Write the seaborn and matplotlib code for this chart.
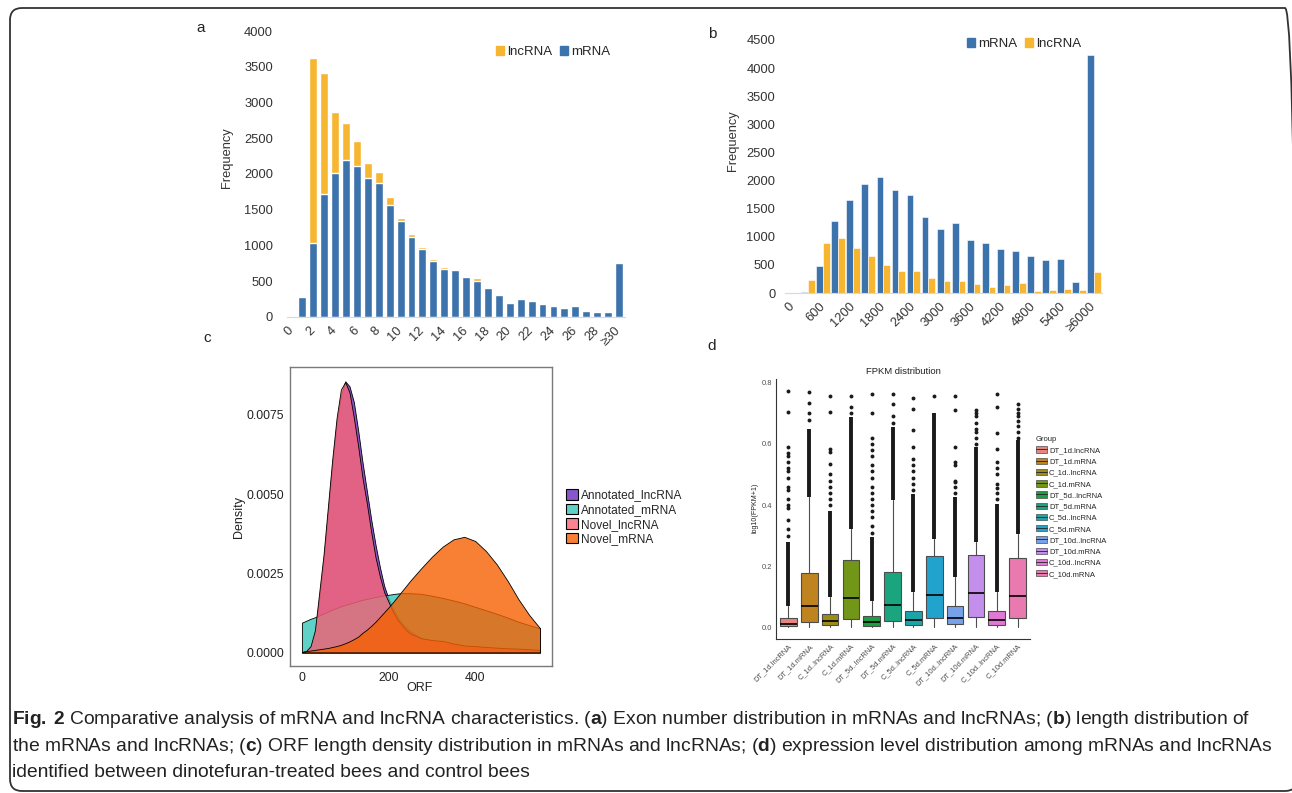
import numpy as np
import pandas as pd
import matplotlib
matplotlib.use("Agg")
import matplotlib.pyplot as plt
import seaborn as sns
from matplotlib.patches import Patch, FancyBboxPatch
from matplotlib.lines import Line2D
from matplotlib.colors import to_rgba
from matplotlib.ticker import FormatStrFormatter

sns.set_style("white")
plt.rcParams["font.family"] = ["Liberation Sans", "DejaVu Sans"]
CAP_FONT = "Liberation Sans"
plt.rcParams["mathtext.fontset"] = "custom"
plt.rcParams["mathtext.rm"] = CAP_FONT
plt.rcParams["mathtext.bf"] = CAP_FONT + ":bold"

# ---------------- data ----------------
# (a) exon number distribution
exon_cats = ["0", "1", "2", "3", "4", "5", "6", "7", "8", "9", "10", "11", "12", "13", "14", "15",
             "16", "17", "18", "19", "20", "21", "22", "23", "24", "25", "26", "27", "28", "29", "≥30"]
exon_mrna = [0, 280, 1031, 1727, 2016, 2189, 2114, 1951, 1871, 1573, 1344, 1125, 947, 784, 667, 663,
             560, 499, 401, 308, 196, 257, 224, 177, 149, 131, 154, 89, 75, 75, 756]
exon_lnc = [0, 0, 2586, 1689, 850, 527, 350, 205, 159, 107, 47, 42, 38, 33, 28, 5,
            14, 42, 19, 9, 0, 9, 9, 0, 0, 0, 14, 0, 9, 0, 0]

# (b) length distribution
len_cats = ["0", "300", "600", "900", "1200", "1500", "1800", "2100", "2400", "2700", "3000",
            "3300", "3600", "3900", "4200", "4500", "4800", "5100", "5400", "5700", "≥6000"]
len_mrna = [0, 12, 480, 1279, 1658, 1930, 2066, 1830, 1747, 1350, 1143,
            1243, 935, 882, 782, 740, 663, 592, 604, 201, 4227]
len_lnc = [0, 237, 888, 977, 800, 657, 497, 391, 391, 272, 207,
           207, 166, 100, 148, 184, 36, 59, 65, 47, 379]

# (c) ORF length density
orf_x = [0, 10, 20, 30, 40, 50, 60, 70, 80, 90, 100, 110, 120, 130, 140, 150, 160, 170, 180, 190,
         200, 210, 220, 230, 240, 250, 275, 300, 325, 350, 375, 400, 425, 450, 475, 500, 525, 550]
dens_ann_lnc = [0, 0.00004, 0.00017, 0.0006, 0.0017, 0.0029, 0.0044, 0.0059, 0.0072, 0.0081,
                0.00856, 0.0084, 0.0079, 0.0070, 0.0060, 0.0051, 0.0042, 0.0034, 0.0027, 0.0021,
                0.0017, 0.0014, 0.00115, 0.00095, 0.0008, 0.00068, 0.00045, 0.00033, 0.00027, 0.00022,
                0.00018, 0.00015, 0.00012, 0.0001, 0.00008, 0.00007, 0.00006, 0.00005]
dens_ann_mrna = [0.00094, 0.001, 0.00106, 0.00111, 0.00117, 0.00123, 0.00129, 0.00135, 0.0014, 0.00146,
                 0.0015, 0.00154, 0.00158, 0.00162, 0.00166, 0.00169, 0.00172, 0.00175, 0.00178, 0.0018,
                 0.00182, 0.00184, 0.00186, 0.00187, 0.00187, 0.00187, 0.00185, 0.00179, 0.00172, 0.00164,
                 0.00155, 0.00144, 0.00133, 0.00122, 0.0011, 0.00097, 0.00086, 0.00076]
dens_nov_lnc = [0, 0.00005, 0.0002, 0.0007, 0.0019, 0.0031, 0.0046, 0.0061, 0.0074, 0.0083,
                0.00854, 0.0082, 0.0074, 0.0065, 0.0055, 0.0047, 0.0038, 0.0030, 0.0024, 0.0019,
                0.0016, 0.0013, 0.00105, 0.00088, 0.00072, 0.0006, 0.00045, 0.00039, 0.00036, 0.00028,
                0.00022, 0.0002, 0.00017, 0.00015, 0.00013, 0.00012, 0.0001, 0.00008]
dens_nov_mrna = [0.00002, 0.00004, 0.00006, 0.00008, 0.0001, 0.00012, 0.00014, 0.00017, 0.0002, 0.00024,
                 0.00029, 0.00035, 0.00042, 0.0005, 0.00062, 0.00072, 0.00084, 0.00097, 0.00112, 0.00127,
                 0.00142, 0.00158, 0.00175, 0.00192, 0.00209, 0.00226, 0.00265, 0.00302, 0.00334, 0.00357,
                 0.00365, 0.00352, 0.0032, 0.00278, 0.00226, 0.00168, 0.00118, 0.00076]
orf_groups = ["Annotated_lncRNA", "Annotated_mRNA", "Novel_lncRNA", "Novel_mRNA"]

# (d) FPKM boxplots
grp_names = ["DT_1d.lncRNA", "DT_1d.mRNA", "C_1d..lncRNA", "C_1d.mRNA", "DT_5d..lncRNA", "DT_5d.mRNA",
             "C_5d..lncRNA", "C_5d.mRNA", "DT_10d..lncRNA", "DT_10d.mRNA", "C_10d..lncRNA", "C_10d.mRNA"]
box_q1 = [0.003, 0.016, 0.008, 0.027, 0.005, 0.020, 0.008, 0.031, 0.011, 0.033, 0.008, 0.031]
box_med = [0.011, 0.068, 0.020, 0.096, 0.016, 0.073, 0.022, 0.107, 0.031, 0.113, 0.022, 0.102]
box_q3 = [0.031, 0.177, 0.044, 0.221, 0.038, 0.180, 0.052, 0.232, 0.068, 0.238, 0.052, 0.227]
whisk_lo = [0, 0, 0, 0, 0, 0, 0, 0, 0, 0, 0, 0]
whisk_hi = [0.068, 0.426, 0.098, 0.322, 0.087, 0.418, 0.115, 0.290, 0.164, 0.279, 0.115, 0.304]
dense_top = [0.28, 0.65, 0.38, 0.689, 0.295, 0.656, 0.437, 0.70, 0.426, 0.59, 0.404, 0.612]
sparse_fliers = [
    [0.30, 0.32, 0.35, 0.39, 0.40, 0.42, 0.45, 0.46, 0.49, 0.51, 0.52, 0.54, 0.56, 0.57, 0.59, 0.705, 0.774],
    [0.68, 0.70, 0.735, 0.77],
    [0.40, 0.42, 0.44, 0.46, 0.48, 0.50, 0.535, 0.575, 0.585, 0.705, 0.758],
    [0.70, 0.72, 0.757],
    [0.31, 0.33, 0.36, 0.38, 0.40, 0.42, 0.44, 0.46, 0.49, 0.51, 0.53, 0.56, 0.58, 0.60, 0.62, 0.70, 0.765],
    [0.67, 0.69, 0.73, 0.765],
    [0.45, 0.47, 0.49, 0.51, 0.53, 0.55, 0.59, 0.645, 0.715, 0.75],
    [0.757],
    [0.44, 0.46, 0.475, 0.48, 0.53, 0.54, 0.59, 0.712, 0.756],
    [0.60, 0.62, 0.64, 0.65, 0.67, 0.69, 0.70, 0.712],
    [0.42, 0.44, 0.455, 0.47, 0.50, 0.52, 0.54, 0.585, 0.635, 0.72, 0.762],
    [0.62, 0.64, 0.66, 0.675, 0.69, 0.70, 0.715, 0.73],
]

BLUE = "#3D73AC"
ORANGE = "#F7B631"
ORF_COLORS = ["#6A2CBF", "#37C7BA", "#FA6675", "#F56001"]
GRP_COLORS = ["#F8766D", "#DE8C00", "#B79F00", "#7CAE00", "#00BA38", "#00C08B",
              "#00BFC4", "#00B4F0", "#619CFF", "#C77CFF", "#F564E3", "#FF64B0"]
GRP_FILL = [sns.desaturate(c, 0.72) for c in GRP_COLORS]

W, H = 1292, 793
fig = plt.figure(figsize=(W / 100, H / 100), dpi=100)


def add_ax(l, t, r, b):
    return fig.add_axes([l / W, 1 - b / H, (r - l) / W, (b - t) / H])


def ftext(x, y, s, **kw):
    return fig.text(x / W, 1 - y / H, s, **kw)


# ---------------- (a) stacked bars ----------------
df_a = pd.DataFrame({"exon": exon_cats, "mRNA": exon_mrna, "lncRNA": exon_lnc})
df_a["total"] = df_a["mRNA"] + df_a["lncRNA"]
axa = add_ax(287, 31, 625, 317)
sns.barplot(data=df_a, x="exon", y="total", order=exon_cats, color=ORANGE, saturation=1,
            width=0.72, ax=axa)
sns.barplot(data=df_a, x="exon", y="mRNA", order=exon_cats, color=BLUE, saturation=1,
            width=0.72, ax=axa)
axa.set_xlim(-0.4, 30.55)
axa.set_ylim(0, 4000)
axa.set_yticks(range(0, 4001, 500))
axa.set_xticks(range(0, 31, 2))
axa.set_xticklabels(exon_cats[::2], rotation=45, ha="right", va="center", rotation_mode="anchor")
axa.tick_params(axis="y", length=0, pad=10, labelsize=9.3, labelcolor="#333333")
axa.tick_params(axis="x", length=0, pad=8.5, labelsize=9.3, labelcolor="#333333")
axa.set_xlabel("")
axa.set_ylabel("")
sns.despine(ax=axa, left=True)
axa.spines["bottom"].set_color("#D9D9D9")
ha_a = [Patch(color=ORANGE), Patch(color=BLUE)]
axa.legend(ha_a, ["lncRNA", "mRNA"], ncol=2, frameon=False, fontsize=9.5, loc="upper left",
           bbox_to_anchor=(496 / W, 1 - 46 / H), bbox_transform=fig.transFigure,
           handlelength=0.6, handleheight=0.6, handletextpad=0.25, columnspacing=0.6,
           borderpad=0, borderaxespad=0)
ftext(227, 158, "Frequency", rotation=90, ha="center", va="center", fontsize=9.3, color="#333333")

# ---------------- (b) grouped bars ----------------
df_b = pd.DataFrame({"length": len_cats, "mRNA": len_mrna, "lncRNA": len_lnc})
df_b = df_b.melt(id_vars="length", var_name="type", value_name="count")
axb = add_ax(785, 40, 1102, 293)
sns.barplot(data=df_b, x="length", y="count", hue="type", order=len_cats,
            hue_order=["mRNA", "lncRNA"], palette=[BLUE, ORANGE], saturation=1, width=0.9,
            edgecolor="white", linewidth=0.4, legend=False, ax=axb)
axb.set_xlim(-0.53, 20.53)
axb.set_ylim(0, 4500)
axb.set_yticks(range(0, 4501, 500))
axb.set_xticks(range(0, 21, 2))
axb.set_xticklabels(len_cats[::2], rotation=45, ha="right", va="center", rotation_mode="anchor")
axb.tick_params(axis="y", length=0, pad=7, labelsize=9.3, labelcolor="#333333")
axb.tick_params(axis="x", length=0, pad=8.5, labelsize=9.3, labelcolor="#333333")
axb.set_xlabel("")
axb.set_ylabel("")
sns.despine(ax=axb, left=True)
axb.spines["bottom"].set_color("#D9D9D9")
axb.legend([Patch(color=BLUE), Patch(color=ORANGE)], ["mRNA", "lncRNA"], ncol=2, frameon=False,
           fontsize=9.5, loc="upper left", bbox_to_anchor=(967 / W, 1 - 38 / H),
           bbox_transform=fig.transFigure, handlelength=0.6, handleheight=0.6,
           handletextpad=0.25, columnspacing=0.6, borderpad=0, borderaxespad=0)
ftext(733, 141, "Frequency", rotation=90, ha="center", va="center", fontsize=9.3, color="#333333")

# ---------------- (c) density ----------------
axc = add_ax(290, 367, 552, 666)
for dens, col in zip([dens_ann_lnc, dens_ann_mrna, dens_nov_lnc, dens_nov_mrna], ORF_COLORS):
    axc.fill_between(orf_x, dens, facecolor=to_rgba(col, 0.8), edgecolor="black", linewidth=0.6)
axc.set_xlim(-27.5, 577.5)
axc.set_ylim(-0.000429, 0.009012)
axc.set_xticks([0, 200, 400])
axc.set_yticks([0, 0.0025, 0.005, 0.0075])
axc.yaxis.set_major_formatter(FormatStrFormatter("%.4f"))
axc.tick_params(length=2.5, width=0.8, color="#333333", labelsize=8.8, labelcolor="#222222", pad=1.5)
for sp in axc.spines.values():
    sp.set_visible(True)
    sp.set_color("#7A7A7A")
    sp.set_linewidth(1.0)
ha_c = [Patch(facecolor=to_rgba(c, 0.8), edgecolor="black", linewidth=0.8) for c in ORF_COLORS]
axc.legend(ha_c, orf_groups, frameon=False, fontsize=8.6, loc="upper left",
           bbox_to_anchor=(566 / W, 1 - 489 / H), bbox_transform=fig.transFigure,
           handlelength=1.0, handleheight=1.0, labelspacing=0.18, handletextpad=0.25,
           borderpad=0, borderaxespad=0)
ftext(239, 517, "Density", rotation=90, ha="center", va="center", fontsize=9, color="#222222")
ftext(420, 688, "ORF", ha="center", va="center", fontsize=9, color="#222222")

# ---------------- (d) boxplots ----------------
axd = add_ax(776, 379, 1030, 639)
pos = list(range(1, 13))
stats = [dict(med=m, q1=a, q3=b, whislo=lo, whishi=hi, fliers=f, label=n)
         for m, a, b, lo, hi, f, n in zip(box_med, box_q1, box_q3, whisk_lo, whisk_hi,
                                          sparse_fliers, grp_names)]
axd.vlines(pos, whisk_hi, dense_top, color="#1a1a1a", linewidth=2.8, zorder=1.5)
bp = axd.bxp(stats, positions=pos, widths=0.8, patch_artist=True, showcaps=False,
             boxprops=dict(edgecolor="#4d4d4d", linewidth=0.8),
             whiskerprops=dict(color="#4d4d4d", linewidth=0.8),
             medianprops=dict(color="black", linewidth=1.2),
             flierprops=dict(marker="o", markersize=2.8, markerfacecolor="#1a1a1a",
                             markeredgecolor="none"))
for box, col in zip(bp["boxes"], GRP_FILL):
    box.set_facecolor(col)
    box.set_zorder(2)
for med in bp["medians"]:
    med.set_zorder(3)
axd.set_xlim(0.4, 12.6)
axd.set_ylim(-0.0387, 0.8127)
axd.set_yticks([0, 0.2, 0.4, 0.6, 0.8])
axd.yaxis.set_major_formatter(FormatStrFormatter("%.1f"))
axd.set_xticks(pos)
axd.set_xticklabels(grp_names, rotation=45, ha="right", va="top", rotation_mode="anchor")
axd.tick_params(length=1.5, width=0.6, color="#333333", labelsize=5.4, labelcolor="#4D4D4D", pad=1.2)
sns.despine(ax=axd)
for sp in ["left", "bottom"]:
    axd.spines[sp].set_color("#333333")
    axd.spines[sp].set_linewidth(0.8)
ha_d = [(Patch(facecolor=c, edgecolor="#4d4d4d", linewidth=0.5),
         Line2D([], [], color="#222222", linewidth=0.6)) for c in GRP_FILL]
axd.legend(ha_d, grp_names, title="Group", frameon=False, fontsize=5.5, title_fontsize=5.5,
           loc="upper left", bbox_to_anchor=(1036 / W, 1 - 436 / H), bbox_transform=fig.transFigure,
           handlelength=1.4, handleheight=0.9, labelspacing=0.45, handletextpad=0.3,
           borderpad=0, borderaxespad=0, alignment="left")
ftext(903, 372, "FPKM distribution", ha="center", va="center", fontsize=6.8, color="#222222")
ftext(755, 508, "log10(FPKM+1)", rotation=90, ha="center", va="center", fontsize=5.1, color="#222222")

# ---------------- panel letters ----------------
for letter, x, y in [("a", 201, 28), ("b", 712, 34), ("c", 207, 338), ("d", 712, 346)]:
    ftext(x, y, letter, ha="center", va="center", fontsize=11, color="#222222")

# ---------------- caption ----------------
cap_lines = [
    r"$\mathbf{Fig.\,2}$ Comparative analysis of mRNA and lncRNA characteristics. ($\mathbf{a}$) Exon number distribution in mRNAs and lncRNAs; ($\mathbf{b}$) length distribution of",
    r"the mRNAs and lncRNAs; ($\mathbf{c}$) ORF length density distribution in mRNAs and lncRNAs; ($\mathbf{d}$) expression level distribution among mRNAs and lncRNAs",
    "identified between dinotefuran-treated bees and control bees",
]
for line, y in zip(cap_lines, [724, 751, 777]):
    ftext(12, y, line, ha="left", va="baseline", fontsize=13.9, family=CAP_FONT, color="#222222")

# rounded frame around the figure
frame = FancyBboxPatch((0.10, 0.02), 12.87, 7.83, boxstyle="round,pad=0,rounding_size=0.12",
                       transform=fig.dpi_scale_trans, facecolor="none", edgecolor="#333333",
                       linewidth=1.3, clip_on=False)
fig.add_artist(frame)

fig.savefig("out.png", dpi=100)
